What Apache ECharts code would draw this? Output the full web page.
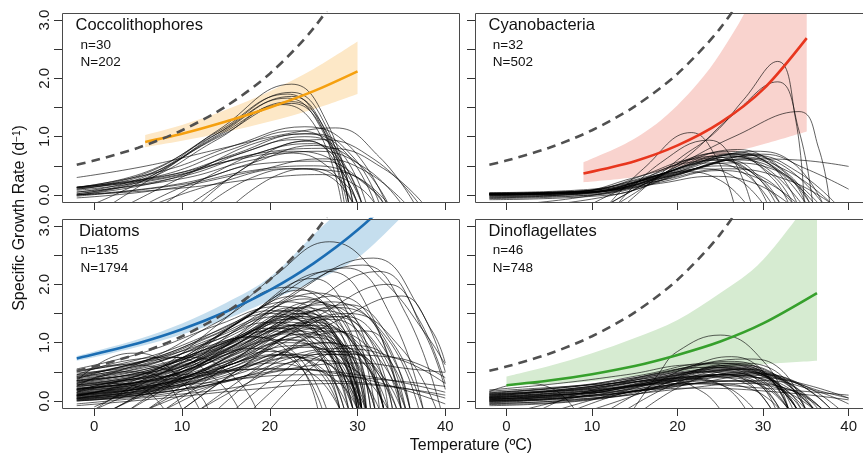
<!DOCTYPE html>
<html><head><meta charset="utf-8">
<script src="https://cdn.jsdelivr.net/npm/echarts@6/dist/echarts.min.js"></script>
<style>html,body{margin:0;padding:0;background:#fff}#c{width:863px;height:453px}</style>
</head><body><div id="c"></div>
<script>
// ---------- labels ----------
const groupNames = ['Coccolithophores','Cyanobacteria','Diatoms','Dinoflagellates'];
const groupSmallN = [30, 32, 135, 46];
const groupBigN = [202, 502, 1794, 748];
const tempTicks = [0, 10, 20, 30, 40];
const rateTicks = [0, 0.5, 1, 1.5, 2, 2.5, 3];
const rateLabels = [0, 1, 2, 3];

// ---------- Eppley curve (dashed) ----------
const eppleyT  = [-2, 0, 5, 10, 15, 20, 25, 30];
const eppleyMu = [0.52, 0.59, 0.81, 1.11, 1.52, 2.08, 2.86, 3.93];

// ---------- fitted curves + confidence bands ----------
const coccoFitT  = [5.8, 10, 15, 20, 25, 30];
const coccoFit   = [0.91, 1.05, 1.26, 1.50, 1.78, 2.12];
const coccoUpper = [1.03, 1.20, 1.46, 1.78, 2.16, 2.63];
const coccoLower = [0.82, 0.93, 1.08, 1.26, 1.47, 1.73];

const cyanoFitT  = [9, 15, 20, 25, 30, 35.1];
const cyanoFit   = [0.37, 0.58, 0.85, 1.24, 1.81, 2.69];
const cyanoUpper = [0.56, 0.97, 1.54, 2.43, 3.80, 6.10];
const cyanoLower = [0.22, 0.31, 0.48, 0.68, 0.87, 1.09];

const diatomFitT  = [-2, 0, 5, 10, 15, 20, 25, 30, 35, 40];
const diatomFit   = [0.73, 0.80, 0.99, 1.23, 1.53, 1.90, 2.36, 2.93, 3.64, 4.50];
const diatomUpper = [0.77, 0.85, 1.06, 1.33, 1.68, 2.12, 2.85, 3.60, 4.70, 6.00];
const diatomLower = [0.69, 0.75, 0.93, 1.14, 1.40, 1.72, 2.05, 2.45, 3.15, 3.90];

const dinoFitT  = [0, 5, 10, 15, 20, 25, 30, 36.3];
const dinoFit   = [0.27, 0.35, 0.46, 0.60, 0.79, 1.02, 1.33, 1.85];
const dinoUpper = [0.42, 0.60, 0.82, 1.08, 1.39, 1.85, 2.42, 3.60];
const dinoLower = [0.26, 0.29, 0.34, 0.42, 0.50, 0.57, 0.63, 0.69];

// ---------- individual thermal reaction norms: [T, mu, T, mu, ...] ----------
const coccoCurves = [
 [-2,0.05, 6,0.33, 14,1.10, 22.5,1.90, 26.5,1.25, 29.5,-0.15],
 [-2,0.02, 6,0.30, 14,1.05, 22.5,1.76, 26.5,1.15, 29.0,-0.15],
 [-2,0.12, 6,0.38, 14,1.08, 22.0,1.73, 26.0,1.15, 28.5,-0.15],
 [0,-0.15, 6,0.28, 14,1.02, 22.5,1.69, 26.5,1.05, 29.0,-0.15],
 [-2,0.13, 6,0.40, 14,1.05, 22.0,1.66, 26.0,1.10, 28.8,-0.15],
 [2,-0.15, 7,0.33, 14,1.00, 22.5,1.60, 27.0,0.95, 29.5,-0.15],
 [-2,0.10, 6,0.35, 14,0.98, 22.5,1.57, 26.5,1.00, 29.0,-0.15],
 [-2,0.00, 6,0.27, 14,0.95, 21.5,1.55, 25.5,1.10, 28.2,-0.15],
 [-2,0.30, 6,0.50, 14,0.78, 22,1.05, 27.5,1.15, 32.5,0.65, 36.5,-0.15],
 [-2,0.13, 8,0.42, 16,0.85, 24,1.17, 29,0.85, 33.3,-0.15],
 [-2,0.10, 8,0.35, 16,0.80, 23,1.10, 27,0.85, 30.5,-0.15],
 [-2,0.00, 8,0.25, 16,0.70, 24,1.05, 28.5,0.75, 32,-0.15],
 [4,-0.15, 12,0.45, 19,0.92, 25,1.05, 29.5,0.65, 32.5,-0.15],
 [-2,0.12, 8,0.30, 17,0.65, 26,0.95, 32,0.60, 37,-0.15],
 [-2,0.00, 10,0.20, 18,0.55, 25,0.85, 30,0.55, 33.5,-0.15],
 [8,-0.15, 14,0.40, 20,0.78, 25,0.88, 28.5,0.50, 30.5,-0.15],
 [-2,0.05, 10,0.28, 18,0.60, 25.5,0.75, 31,0.45, 35,-0.15],
 [12,-0.15, 17,0.45, 22,0.75, 26.5,0.65, 30,-0.15],
 [-2,0.13, 8,0.33, 16,0.60, 22,0.72, 26.5,0.50, 29.5,-0.15],
 [6,-0.15, 12,0.25, 20,0.55, 26,0.58, 30.5,0.25, 33,-0.15],
 [-2,-0.02, 10,0.18, 18,0.42, 25,0.50, 30,0.30, 33.5,-0.15],
 [13,-0.15, 18,0.30, 23,0.45, 27,0.30, 29.5,-0.15],
 [-2,0.02, 10,0.32, 19,0.72, 27,0.80, 33,0.45, 37.5,-0.15],
 [-2,0.08, 10,0.35, 18,0.78, 24,1.00, 28,0.75, 31,-0.15],
 [11,-0.15, 16,0.35, 21,0.82, 24.5,0.92, 28,0.45, 30,-0.15],
 [-2,0.00, 10,0.12, 20,0.30, 26,0.35, 30,0.15, 32,-0.15],
 [7,-0.15, 14,0.20, 22,0.45, 28,0.40, 32,0.05, 33,-0.15],
 [-2,0.14, 8,0.32, 16,0.68, 23,0.95, 27,0.72, 30.5,-0.15],
 [16,-0.15, 21,0.35, 25,0.45, 28.5,0.20, 30,-0.15],
 [-2,-0.05, 8,0.10, 18,0.40, 26,0.62, 31,0.40, 35.5,-0.15]
];

const cyanoCurves = [
 [14,-0.15, 20,0.60, 24.3,1.06, 27.7,1.63, 31.7,2.29, 33.8,1.30, 34.8,-0.15],
 [13,-0.15, 20.8,0.62, 26.3,1.35, 31.7,1.94, 34.2,1.10, 35.8,-0.15],
 [12,-0.15, 20,0.50, 26.6,1.00, 34.2,1.43, 36.5,0.80, 37.8,-0.15],
 [12,-0.15, 16,0.45, 21.6,1.07, 24.5,0.65, 26.6,-0.15],
 [13,-0.15, 18,0.55, 23.7,0.94, 26.5,0.60, 28.6,-0.15],
 [-2,-0.05, 10,0.05, 20,0.35, 28,0.62, 34,0.60, 40,0.49],
 [-2,0.02, 10,0.08, 18,0.35, 26,0.70, 31,0.60, 37,-0.15],
 [-2,0.03, 8,0.06, 16,0.30, 25,0.72, 30,0.50, 34.5,-0.15],
 [-2,0.02, 8,0.04, 16,0.25, 26,0.75, 31,0.50, 35,-0.15],
 [-2,0.00, 8,0.02, 17,0.30, 27,0.78, 32,0.45, 35.5,-0.15],
 [-2,-0.03, 9,0.02, 18,0.35, 26,0.68, 31,0.35, 33.5,-0.15],
 [-2,0.01, 8,0.05, 15,0.30, 23,0.62, 28,0.45, 32,-0.15],
 [-2,-0.06, 10,0.00, 18,0.30, 27,0.66, 33,0.40, 38,-0.15],
 [-2,0.03, 10,0.08, 18,0.36, 25,0.60, 29,0.35, 31.5,-0.15],
 [-2,0.00, 10,0.04, 19,0.40, 28,0.72, 33,0.35, 35.5,-0.15],
 [-2,0.02, 8,0.05, 16,0.28, 24,0.55, 28,0.35, 31,-0.15],
 [-2,-0.02, 10,0.02, 18,0.25, 27,0.60, 32,0.40, 36.5,-0.15],
 [-2,0.04, 10,0.10, 17,0.38, 24,0.66, 28,0.40, 30.5,-0.15],
 [-2,-0.08, 12,0.00, 20,0.35, 28,0.62, 33,0.30, 35,-0.15],
 [2,-0.15, 12,0.05, 20,0.42, 27,0.70, 31,0.50, 34,-0.15],
 [-2,0.01, 10,0.05, 18,0.30, 25,0.50, 30,0.30, 33.5,-0.15],
 [-2,0.00, 10,0.06, 17,0.28, 23,0.45, 27,0.28, 30,-0.15],
 [6,-0.15, 14,0.05, 22,0.45, 29,0.68, 34,0.40, 38.5,-0.15],
 [-2,0.02, 10,0.06, 20,0.40, 29,0.75, 33.5,0.55, 37,-0.15],
 [-2,-0.04, 10,0.00, 18,0.22, 25,0.42, 30,0.25, 34,-0.15],
 [-2,0.03, 8,0.06, 15,0.22, 21,0.40, 25,0.25, 28,-0.15],
 [10,-0.15, 15,0.20, 21,0.55, 26,0.60, 30,0.25, 32,-0.15],
 [-2,0.00, 12,0.08, 22,0.45, 30,0.70, 35,0.45, 40,0.10],
 [-2,0.02, 10,0.05, 19,0.32, 26,0.55, 31,0.45, 36,-0.15],
 [12,-0.15, 17,0.25, 22,0.55, 27,0.65, 31,0.30, 33,-0.15],
 [-2,-0.01, 10,0.04, 18,0.20, 24,0.32, 29,0.20, 33,-0.15],
 [-2,0.01, 9,0.04, 17,0.22, 26,0.45, 33,0.25, 38,-0.15]
];

const diatomCurves = [
 [-2,0.55, 6,0.85, 14,1.30, 21,1.62, 26,1.20, 29.5,-0.15],
 [-2,0.50, 6,0.75, 14,1.20, 22,1.70, 27,1.25, 30.5,-0.15],
 [-2,0.45, 6,0.70, 13,1.10, 20,1.50, 25.5,1.10, 29.5,-0.15],
 [-2,0.42, 6,0.62, 14,1.05, 22,1.55, 27,1.10, 30.2,-0.15],
 [-2,0.40, 6,0.58, 14,0.95, 23,1.45, 28,1.05, 31,-0.15],
 [-2,0.38, 6,0.55, 13,0.85, 20,1.20, 25,0.90, 28.5,-0.15],
 [-2,0.35, 6,0.50, 14,0.88, 22,1.35, 27.5,1.00, 30.5,-0.15],
 [-2,0.33, 6,0.52, 15,1.00, 24,1.60, 29,1.10, 31.5,-0.15],
 [-2,0.30, 6,0.45, 14,0.82, 21,1.25, 26,0.95, 30,-0.15],
 [-2,0.28, 7,0.45, 15,0.90, 23,1.42, 28,1.00, 30.5,-0.15],
 [-2,0.26, 6,0.40, 14,0.75, 22,1.15, 27,0.85, 30.5,-0.15],
 [-2,0.25, 8,0.50, 16,1.00, 24,1.50, 29.5,1.00, 33,-0.15],
 [-2,0.22, 6,0.35, 14,0.70, 21,1.05, 26,0.80, 29.5,-0.15],
 [-2,0.20, 8,0.40, 16,0.85, 25,1.35, 30,0.90, 33,-0.15],
 [-2,0.18, 6,0.30, 14,0.62, 22,1.00, 27,0.75, 30.5,-0.15],
 [-2,0.16, 8,0.38, 16,0.85, 23,1.30, 27.5,0.90, 30.2,-0.15],
 [-2,0.15, 6,0.28, 14,0.58, 20,0.85, 25,0.60, 28,-0.15],
 [-2,0.13, 8,0.32, 17,0.78, 26,1.25, 31,0.85, 34.5,-0.15],
 [-2,0.12, 6,0.25, 14,0.55, 23,0.95, 28,0.70, 31,-0.15],
 [-2,0.10, 8,0.28, 16,0.65, 24,1.10, 29,0.80, 32,-0.15],
 [-2,0.09, 6,0.22, 14,0.50, 21,0.78, 26,0.55, 29,-0.15],
 [-2,0.08, 8,0.25, 17,0.70, 27,1.20, 32,0.80, 35.5,-0.15],
 [-2,0.06, 6,0.18, 14,0.45, 22,0.80, 27,0.60, 30.5,-0.15],
 [-2,0.05, 8,0.22, 16,0.55, 24,0.92, 29,0.65, 32.5,-0.15],
 [-2,0.04, 6,0.15, 14,0.40, 20,0.65, 25,0.45, 28,-0.15],
 [-2,0.03, 8,0.20, 18,0.62, 26,1.00, 31,0.70, 34.5,-0.15],
 [-2,0.02, 8,0.15, 16,0.45, 23,0.75, 28,0.50, 31,-0.15],
 [-2,0.01, 8,0.12, 17,0.42, 25,0.70, 30,0.50, 33.5,-0.15],
 [-2,0.48, 5,0.60, 12,0.90, 18,1.10, 23,0.80, 26.5,-0.15],
 [-2,0.36, 6,0.48, 12,0.70, 18,0.90, 23,0.65, 26,-0.15],
 [-2,0.32, 8,0.60, 16,1.15, 24,1.75, 29,1.20, 31,-0.15],
 [-2,0.27, 8,0.55, 16,1.10, 22.5,1.60, 27,1.20, 30,-0.15],
 [-2,0.24, 8,0.50, 15,0.95, 22,1.40, 27,1.05, 30,-0.15],
 [-2,0.21, 8,0.42, 16,0.90, 24,1.45, 28.5,1.05, 30.8,-0.15],
 [-2,0.18, 8,0.40, 16,0.95, 23,1.55, 27.5,1.15, 30.2,-0.15],
 [-2,0.14, 8,0.35, 15,0.80, 22,1.30, 26.5,1.00, 29.5,-0.15],
 [-2,0.11, 8,0.30, 16,0.75, 23,1.20, 28,0.85, 30.5,-0.15],
 [-2,0.07, 8,0.25, 16,0.70, 25,1.30, 30,0.95, 33,-0.15],
 [-2,0.04, 8,0.22, 16,0.65, 22,1.05, 27,0.80, 30,-0.15],
 [-2,0.00, 8,0.18, 16,0.60, 24,1.15, 29,0.85, 32,-0.15],
 [-2,0.44, 6,0.68, 14,1.15, 20,1.55, 25,1.25, 29,-0.15],
 [-2,0.52, 6,0.70, 13,1.00, 20,1.35, 25,1.00, 28.5,-0.15],
 [-2,0.31, 8,0.55, 16,1.05, 26,1.65, 31,1.15, 34,-0.15],
 [-2,0.19, 8,0.42, 17,0.98, 26,1.55, 31.5,1.05, 35,-0.15],
 [-2,0.09, 8,0.30, 17,0.85, 27,1.45, 32,1.00, 35.5,-0.15],
 [-2,0.08, 6,0.45, 14,1.30, 20.6,2.15, 26.8,2.73, 33,2.05, 38,1.10, 40,0.62],
 [4,-0.15, 12,0.60, 22,1.75, 31.8,2.45, 37,1.60, 40,0.50],
 [2,-0.15, 10,0.55, 20,1.60, 30.6,2.33, 35.5,1.50, 39.5,-0.15],
 [-2,0.10, 8,0.50, 18,1.50, 28.7,2.28, 34,1.40, 37.5,-0.15],
 [-2,0.20, 8,0.60, 17,1.40, 26.8,2.22, 31.5,1.50, 35,-0.15],
 [8,-0.15, 16,0.70, 24,1.60, 32.5,2.22, 37,1.40, 40,0.30],
 [0,-0.10, 8,0.50, 17,1.40, 24.9,2.10, 29.5,1.30, 32,-0.15],
 [10,-0.15, 18,0.70, 26,1.50, 33.5,2.00, 37.5,1.20, 40,0.20],
 [12,-0.15, 20,0.70, 28,1.40, 35,1.80, 38.5,1.20, 40,0.65],
 [-2,0.30, 6,0.70, 14,1.35, 22,1.95, 27,1.50, 30.5,-0.15],
 [-2,0.15, 8,0.60, 16,1.30, 23.5,1.90, 28.5,1.40, 31.5,-0.15],
 [0,-0.15, 6,0.40, 12,0.85, 18,1.10, 23,0.70, 25.5,-0.15],
 [4,-0.15, 10,0.45, 17,1.00, 24,1.30, 29,0.85, 31,-0.15],
 [6,-0.15, 12,0.35, 20,1.05, 27,1.40, 31.5,0.90, 33.5,-0.15],
 [10,-0.15, 16,0.50, 23,1.20, 28.5,1.45, 33,0.90, 35.5,-0.15],
 [14,-0.15, 20,0.60, 26,1.15, 31,1.20, 34.5,0.60, 36,-0.15],
 [8,-0.15, 14,0.30, 21,0.80, 27,1.00, 31,0.60, 33,-0.15],
 [16,-0.15, 21,0.45, 26,0.85, 30,0.80, 33,0.30, 34,-0.15],
 [2,-0.15, 8,0.25, 15,0.60, 21,0.80, 26,0.50, 28,-0.15],
 [12,-0.15, 18,0.35, 24,0.75, 29,0.85, 33,0.40, 35,-0.15],
 [18,-0.15, 23,0.50, 27,0.80, 31,0.60, 33.5,-0.15],
 [6,-0.15, 12,0.20, 19,0.45, 24,0.55, 28,0.30, 30,-0.15],
 [20,-0.15, 25,0.60, 29,0.95, 33,0.80, 36,-0.15],
 [-2,0.35, 2,0.75, 5,0.82, 9,0.50, 12,-0.15],
 [-2,0.25, 3,0.50, 7,0.45, 10,-0.15],
 [-2,0.45, 4,0.70, 9,0.75, 14,0.35, 16.5,-0.15],
 [-2,0.15, 2,0.30, 5,0.25, 8,-0.15],
 [-2,0.38, 5,0.65, 11,0.75, 16,0.40, 18.5,-0.15],
 [-2,0.50, 3,0.62, 8,0.55, 12,0.10, 13,-0.15],
 [-2,0.02, 10,0.20, 20,0.50, 30,0.65, 36,0.55, 40,0.49],
 [-2,0.10, 12,0.30, 24,0.45, 34,0.35, 40,0.25],
 [-2,-0.05, 12,0.15, 24,0.35, 34,0.25, 40,0.05],
 [-2,0.20, 10,0.40, 20,0.55, 30,0.45, 40,0.15],
 [-2,0.00, 14,0.30, 26,0.80, 34,0.75, 40,0.40],
 [-2,0.12, 10,0.35, 20,0.70, 28,0.90, 35,0.70, 40,0.30],
 [-2,0.28, 10,0.45, 20,0.55, 30,0.40, 40,-0.05],
 [-2,-0.08, 8,0.05, 18,0.20, 28,0.30, 40,0.10],
 [-2,0.40, 6,0.65, 14,1.10, 21,1.45, 26,1.05, 29,-0.15],
 [-2,0.22, 8,0.48, 16,1.05, 23,1.50, 27.5,1.10, 30,-0.15],
 [-2,0.05, 8,0.28, 16,0.80, 24,1.25, 28.5,0.90, 30.5,-0.15],
 [-2,0.34, 6,0.55, 14,0.95, 20,1.25, 25,0.95, 28,-0.15],
 [-2,0.20, 8,0.45, 18,1.10, 27,1.70, 32.5,1.20, 36,-0.15],
 [-2,0.10, 10,0.50, 20,1.25, 28,1.60, 33.5,1.05, 37,-0.15],
 [0,-0.15, 10,0.55, 20,1.35, 27.5,1.80, 32,1.30, 35,-0.15],
 [-2,0.35, 8,0.70, 18,1.40, 25.5,1.85, 30,1.35, 32.5,-0.15],
 [6,-0.15, 14,0.65, 22,1.35, 29,1.65, 34,1.00, 37.5,-0.15],
 [-2,0.05, 10,0.40, 20,1.10, 29,1.50, 35,0.90, 39,-0.15],
 [-2,0.42, 8,0.80, 16,1.35, 23,1.80, 28,1.35, 31,-0.15],
 [2,-0.15, 10,0.50, 18,1.20, 25,1.70, 30,1.20, 33,-0.15]
];

const dinoCurves = [
 [14.8,-0.15, 17.8,0.47, 20,0.85, 25,1.13, 30.4,0.62, 33,-0.15],
 [12,-0.15, 18,0.35, 22,0.62, 26.3,0.76, 30.5,0.45, 33,-0.15],
 [-2,0.19, 6,0.30, 14,0.45, 22,0.62, 28,0.55, 33,0.10, 34.5,-0.15],
 [-2,0.15, 8,0.25, 16,0.45, 24,0.65, 30,0.45, 34,-0.15],
 [-2,0.10, 8,0.22, 16,0.38, 24,0.58, 29,0.50, 33,0.15, 34.5,-0.15],
 [-2,0.08, 10,0.25, 18,0.45, 25,0.55, 31,0.35, 35,-0.15],
 [-2,0.05, 10,0.20, 18,0.40, 26,0.58, 31,0.45, 36,-0.15],
 [-2,0.02, 10,0.18, 18,0.38, 27,0.62, 32,0.40, 35,-0.15],
 [-2,0.00, 8,0.12, 16,0.30, 24,0.50, 29,0.42, 33,-0.15],
 [-2,-0.03, 10,0.10, 20,0.40, 27,0.55, 32,0.35, 36,-0.15],
 [-2,0.12, 10,0.20, 20,0.30, 30,0.22, 40,0.10],
 [-2,0.06, 12,0.15, 22,0.22, 32,0.15, 40,0.02],
 [-2,0.16, 2,0.30, 5.5,0.20, 8,-0.15],
 [4,-0.15, 8,0.10, 14,0.30, 19,0.35, 23,0.15, 25,-0.15],
 [-2,-0.05, 10,0.05, 18,0.25, 26,0.45, 31,0.30, 34,-0.15],
 [-2,0.04, 8,0.10, 16,0.28, 23,0.42, 28,0.30, 31,-0.15],
 [-2,0.13, 10,0.28, 18,0.48, 25,0.65, 31,0.48, 37,-0.15],
 [-2,-0.08, 10,0.02, 20,0.30, 28,0.50, 33,0.30, 36.5,-0.15],
 [-2,0.07, 10,0.22, 20,0.52, 26,0.68, 30,0.50, 33,-0.15],
 [-2,0.00, 12,0.12, 22,0.35, 29,0.48, 34,0.30, 38,-0.15],
 [-2,0.03, 8,0.12, 15,0.28, 21,0.40, 26,0.22, 29,-0.15],
 [6,-0.15, 12,0.10, 20,0.40, 27,0.60, 31,0.40, 33.5,-0.15],
 [-2,0.11, 8,0.20, 16,0.35, 22,0.50, 27,0.42, 31,-0.15],
 [-2,-0.02, 10,0.08, 18,0.22, 24,0.30, 29,0.18, 32,-0.15],
 [-2,0.05, 10,0.15, 20,0.35, 28,0.48, 35,0.28, 40,0.05],
 [10,-0.15, 16,0.15, 22,0.50, 27,0.62, 31,0.35, 33,-0.15],
 [-2,0.14, 8,0.26, 16,0.42, 23,0.58, 28,0.48, 32,-0.15],
 [-2,0.09, 10,0.22, 19,0.42, 26,0.52, 32,0.30, 36,-0.15],
 [-2,-0.06, 8,0.00, 16,0.20, 24,0.45, 30,0.38, 34,-0.15],
 [-2,0.02, 12,0.12, 22,0.30, 30,0.35, 36,0.18, 40,-0.05],
 [-2,0.17, 6,0.24, 14,0.32, 20,0.38, 25,0.28, 28,-0.15],
 [14,-0.15, 19,0.25, 24,0.50, 28,0.55, 32,0.25, 34,-0.15],
 [-2,0.04, 10,0.16, 20,0.45, 27,0.65, 31,0.55, 35,-0.15],
 [-2,-0.01, 10,0.10, 18,0.30, 25,0.40, 30,0.25, 33,-0.15],
 [-2,0.08, 10,0.18, 18,0.32, 26,0.45, 33,0.35, 38,-0.15],
 [2,-0.15, 10,0.12, 18,0.32, 24,0.45, 29,0.32, 32,-0.15],
 [-2,0.06, 10,0.14, 20,0.28, 27,0.34, 33,0.20, 37,-0.15],
 [-2,0.10, 10,0.24, 20,0.55, 28,0.72, 32,0.55, 35,-0.15],
 [8,-0.15, 14,0.15, 22,0.40, 28,0.55, 33,0.30, 36,-0.15],
 [-2,0.01, 8,0.06, 16,0.18, 24,0.35, 31,0.25, 36,-0.15],
 [-2,-0.04, 12,0.06, 22,0.30, 30,0.45, 35,0.25, 39,-0.15],
 [-2,0.12, 8,0.22, 17,0.40, 24,0.52, 29,0.40, 33,-0.15],
 [16,-0.15, 21,0.30, 25,0.45, 29,0.35, 31.5,-0.15],
 [-2,0.07, 12,0.20, 22,0.42, 30,0.40, 38,0.12, 40,0.05],
 [-2,0.00, 10,0.05, 20,0.20, 28,0.30, 34,0.15, 37,-0.15],
 [-2,0.03, 8,0.10, 18,0.35, 25,0.55, 30,0.45, 34,-0.15]
];

// ---------- assembly ----------
const FONT = '"Liberation Sans", Arial, Helvetica, sans-serif';
const panels = [
  {curves: coccoCurves,  fitT: coccoFitT,  fit: coccoFit,  up: coccoUpper,  lo: coccoLower,  line: '#F5A00F', band: '#FDE8C7'},
  {curves: cyanoCurves,  fitT: cyanoFitT,  fit: cyanoFit,  up: cyanoUpper,  lo: cyanoLower,  line: '#E8361E', band: '#F9D3CE'},
  {curves: diatomCurves, fitT: diatomFitT, fit: diatomFit, up: diatomUpper, lo: diatomLower, line: '#1B6DB3', band: '#C5DEEE'},
  {curves: dinoCurves,   fitT: dinoFitT,   fit: dinoFit,   up: dinoUpper,   lo: dinoLower,   line: '#36A02C', band: '#D6EBD1'}
];
const gridPos = [
  {left: 62,  top: 13,  width: 398, height: 189},
  {left: 475, top: 13,  width: 397, height: 189},
  {left: 62,  top: 219, width: 398, height: 189},
  {left: 475, top: 219, width: 397, height: 189}
];
const grids = gridPos.map(g => Object.assign({show: false, containLabel: false}, g));
const xAxes = gridPos.map((g, i) => ({
  gridIndex: i, type: 'value', min: -3.68, max: 41.68, position: 'bottom',
  axisLine: {show: false, onZero: false}, splitLine: {show: false},
  axisTick: {show: true, customValues: tempTicks, length: 8, lineStyle: {color: '#333', width: 1}},
  axisLabel: {show: i >= 2, customValues: tempTicks, margin: 11, fontSize: 15, color: '#1a1a1a', fontFamily: FONT}
}));
const yAxes = gridPos.map((g, i) => ({
  gridIndex: i, type: 'value', min: -0.12, max: 3.12, position: 'left',
  axisLine: {show: false, onZero: false}, splitLine: {show: false},
  axisTick: {show: true, customValues: rateTicks, length: 8, lineStyle: {color: '#333', width: 1}},
  axisLabel: {show: i % 2 === 0, customValues: rateLabels, rotate: 90, margin: 10, fontSize: 15, color: '#1a1a1a', fontFamily: FONT,
              formatter: v => Number(v).toFixed(1)}
}));

// Catmull-Rom -> cubic bezier path segments through pixel points
function splineSegs(pts) {
  let d = '';
  for (let k = 0; k < pts.length - 1; k++) {
    const p0 = pts[k - 1] || pts[k], p1 = pts[k], p2 = pts[k + 1], p3 = pts[k + 2] || pts[k + 1];
    const c1x = p1[0] + (p2[0] - p0[0]) / 6, c1y = p1[1] + (p2[1] - p0[1]) / 6;
    const c2x = p2[0] - (p3[0] - p1[0]) / 6, c2y = p2[1] - (p3[1] - p1[1]) / 6;
    d += ' C' + c1x + ',' + c1y + ' ' + c2x + ',' + c2y + ' ' + p2[0] + ',' + p2[1];
  }
  return d;
}

const series = [];
panels.forEach((p, i) => {
  const base = {type: 'line', xAxisIndex: i, yAxisIndex: i, symbol: 'none', silent: true, clip: true};
  // confidence band as a closed path through the library's coordinate conversion
  series.push({
    type: 'custom', xAxisIndex: i, yAxisIndex: i, silent: true, clip: true, z: 1,
    data: [0],
    renderItem: (params, api) => {
      const upPx = p.fitT.map((t, k) => api.coord([t, p.up[k]]));
      const loPx = p.fitT.map((t, k) => api.coord([t, p.lo[k]])).reverse();
      const d = 'M' + upPx[0][0] + ',' + upPx[0][1] + splineSegs(upPx) +
                ' L' + loPx[0][0] + ',' + loPx[0][1] + splineSegs(loPx) + ' Z';
      const cs = params.coordSys;
      return {type: 'path', shape: {pathData: d}, style: {fill: p.band, stroke: null},
              clipPath: {type: 'rect', shape: {x: cs.x, y: cs.y, width: cs.width, height: cs.height}}};
    }
  });
  p.curves.forEach(c => {
    const pts = [];
    for (let k = 0; k < c.length; k += 2) pts.push([c[k], c[k + 1]]);
    series.push(Object.assign({}, base, {
      data: pts, smooth: 0.45, lineStyle: {color: 'rgba(0,0,0,0.62)', width: 1}, z: 2
    }));
  });
  series.push(Object.assign({}, base, {
    data: p.fitT.map((t, k) => [t, p.fit[k]]), smooth: 0.3,
    lineStyle: {color: p.line, width: 2.6}, z: 3
  }));
  series.push(Object.assign({}, base, {
    data: eppleyT.map((t, k) => [t, eppleyMu[k]]), smooth: 0.3,
    lineStyle: {color: '#505050', width: 2.6, type: [9, 6]}, z: 4
  }));
});

const textPos = [
  {tx: 75.5, ty: 25.7, nx: 80.5, ny: 45, Nx: 80.5, Ny: 62},
  {tx: 488.5, ty: 25.7, nx: 492.8, ny: 45, Nx: 492.8, Ny: 62},
  {tx: 79, ty: 231.7, nx: 80.5, ny: 250.7, Nx: 80.5, Ny: 268.3},
  {tx: 488.5, ty: 231.7, nx: 492.8, ny: 250.7, Nx: 492.8, Ny: 268.3}
];
const graphics = [];
gridPos.forEach(g => {
  graphics.push({type: 'rect', z: 90, silent: true,
    shape: {x: g.left + 0.5, y: g.top + 0.5, width: g.width - 1, height: g.height},
    style: {fill: null, stroke: '#4a4a4a', lineWidth: 1}});
});
textPos.forEach((t, i) => {
  graphics.push({type: 'text', z: 100, style: {text: groupNames[i], x: t.tx, y: t.ty, fill: '#111', font: '16.5px ' + FONT, textAlign: 'left', textVerticalAlign: 'middle'}});
  graphics.push({type: 'text', z: 100, style: {text: 'n=' + groupSmallN[i], x: t.nx, y: t.ny, fill: '#111', font: '13.5px ' + FONT, textAlign: 'left', textVerticalAlign: 'middle'}});
  graphics.push({type: 'text', z: 100, style: {text: 'N=' + groupBigN[i], x: t.Nx, y: t.Ny, fill: '#111', font: '13.5px ' + FONT, textAlign: 'left', textVerticalAlign: 'middle'}});
});
graphics.push({type: 'text', z: 100, style: {text: 'Temperature (\u00baC)', x: 471, y: 446, fill: '#111', font: '16px ' + FONT, textAlign: 'center', textVerticalAlign: 'middle'}});
graphics.push({type: 'text', z: 100, x: 20, y: 218, rotation: Math.PI / 2,
  style: {text: 'Specific Growth Rate (d{sup|\u22121})', x: 0, y: 0, fill: '#111', font: '16px ' + FONT, textAlign: 'center', textVerticalAlign: 'middle',
    rich: {sup: {fontSize: 10, fontFamily: FONT, fill: '#111', verticalAlign: 'top', padding: [0, 0, 6, 0]}}}});

const chart = echarts.init(document.getElementById('c'), null, {renderer: 'canvas'});
chart.setOption({
  animation: false, backgroundColor: '#fff',
  grid: grids, xAxis: xAxes, yAxis: yAxes, series: series, graphic: graphics
});
</script></body></html>
